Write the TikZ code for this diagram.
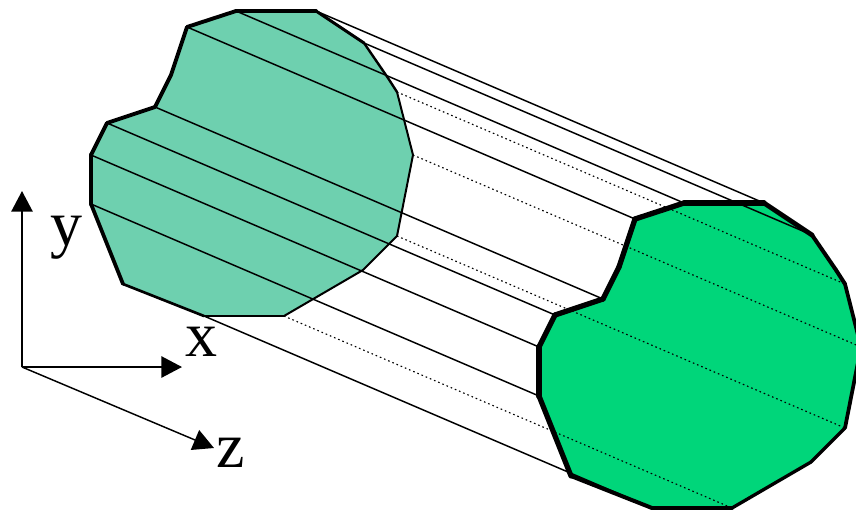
\documentclass[tikz,border=0pt]{standalone}
\usepackage{fontspec}
\setmainfont{Liberation Serif}
\usepackage{xcolor}
\usepackage{tikz}
\usetikzlibrary{arrows.meta}
\definecolor{frontgreen}{RGB}{110,208,175}
\definecolor{backgreen}{RGB}{0,214,122}

\begin{document}
\begin{tikzpicture}[
    x=0.75pt, y=-0.75pt,
    edge/.style={line width=1.1pt},
    hidden/.style={line width=0.85pt, dash pattern=on 1.2pt off 2.2pt},
    axis/.style={-{Triangle[length=15.5pt, width=16pt]}, line width=1.3pt},
    label/.style={font=\fontsize{48}{48}\selectfont, anchor=base, inner sep=0pt}
]
    \useasboundingbox (0,0) rectangle (856,512);

    % Outline corners, the back ones are shifted copies
    \foreach \n/\px/\py in {1/236/11, 2/316/11, 3/364/43, 4/388/78, 5/397/92, 6/413/155,
                            7/397/236, 8/363/270, 9/284/316, 10/204/316, 11/123/284,
                            12/91/204, 13/91/155, 14/107/123, 15/155/107, 16/171/75, 17/187/27} {
        \coordinate (f\n) at (\px,\py);
        \coordinate (b\n) at (\px+448,\py+192);
    }

    % Faces
    \fill[frontgreen] (f1) -- (f2) -- (f3) -- (f4) -- (f5) -- (f6) -- (f7) -- (f8) -- (f9)
        -- (f10) -- (f11) -- (f12) -- (f13) -- (f14) -- (f15) -- (f16) -- (f17) -- cycle;
    \fill[backgreen] (b1) -- (b2) -- (b3) -- (b4) -- (b5) -- (b6) -- (b7) -- (b8) -- (b9)
        -- (b10) -- (b11) -- (b12) -- (b13) -- (b14) -- (b15) -- (b16) -- (b17) -- cycle;

    % Lengthwise edges
    \foreach \n in {1,2,3,10,12,13,14,15,17}
        \draw[edge] (f\n) -- (b\n);
    \foreach \n in {5,6,7,9}
        \draw[hidden] (f\n) -- (b\n);

    % Rims
    \foreach \a/\b/\w in {1/2/2.8, 2/3/2.2, 3/4/1.8, 4/5/1.8, 5/6/1.5, 6/7/1.5, 7/8/1.5, 8/9/1.5,
                          9/10/1.7, 10/11/2, 11/12/2.8, 12/13/3.2, 13/14/2.9, 14/15/2.9,
                          15/16/2.9, 16/17/2.9, 17/1/2.9}
        \draw[line width=\w pt, line cap=round] (f\a) -- (f\b);
    \foreach \a/\b/\w in {1/2/4, 2/3/3.6, 3/4/3, 4/5/3, 5/6/2.8, 6/7/2.8, 7/8/2.5, 8/9/2.5,
                          9/10/2.8, 10/11/3, 11/12/3.9, 12/13/4.6, 13/14/4, 14/15/4,
                          15/16/4, 16/17/4, 17/1/4}
        \draw[line width=\w pt, line cap=round] (b\a) -- (b\b);

    % Axes
    \coordinate (origin) at (22,367);
    \coordinate (ytip) at (22,191);
    \coordinate (xtip) at (182,367);
    \coordinate (ztip) at (214,448);
    \draw[axis] (origin) -- (ytip);
    \draw[axis] (origin) -- (xtip);
    \draw[axis, line width=1.1pt] (origin) -- (ztip);
    \node[label] (ylabel) at (66,245) {y};
    \node[label] (xlabel) at (201,356) {x};
    \node[label] (zlabel) at (231,467) {z};
\end{tikzpicture}
\end{document}
